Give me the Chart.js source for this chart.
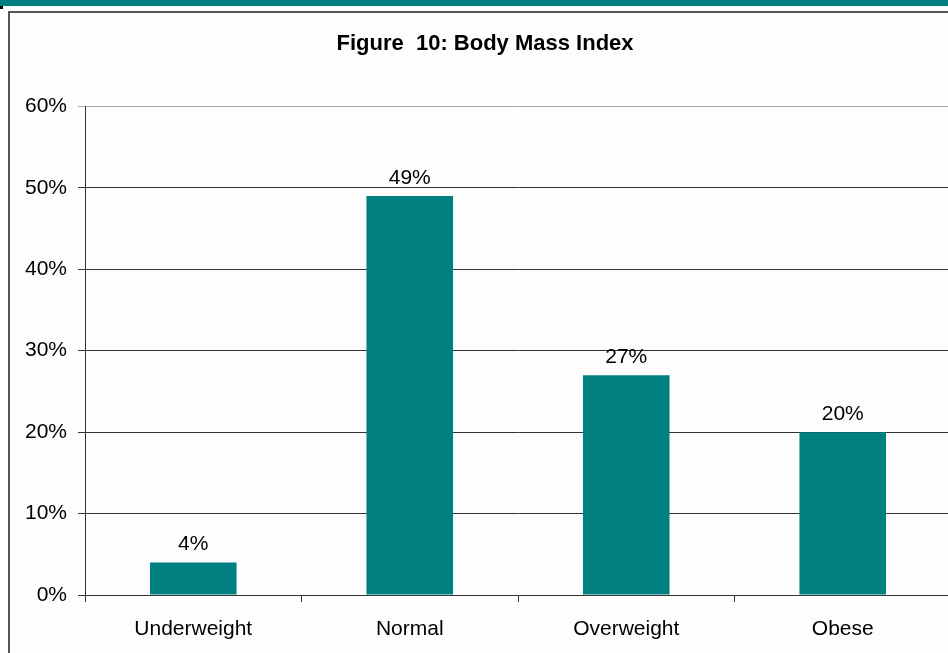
<!DOCTYPE html>
<html>
<head>
<meta charset="utf-8">
<script src="https://cdn.jsdelivr.net/npm/chart.js@4"></script>
<style>
  html, body { margin: 0; padding: 0; background: #fff; overflow: hidden; width: 948px; height: 653px; }
  #band { position: absolute; left: 0; top: 0; width: 948px; height: 6px; background: #008080; }
  #mark { position: absolute; left: 0; top: 6px; width: 3px; height: 3px; background: #000; }
  #frame { position: absolute; left: 8px; top: 11px; width: 960px; height: 660px;
           border-left: 2px solid #555; border-top: 2px solid #555; background: #fdfdfd; }
  #chart { position: absolute; left: 0; top: 0; }
</style>
</head>
<body>
<div id="band"></div>
<div id="mark"></div>
<div id="frame"></div>
<canvas id="chart" width="970" height="653"></canvas>
<script>
const categories = ['Underweight', 'Normal', 'Overweight', 'Obese'];
const shares = [4, 49, 27, 20];
const yTicks = [0, 10, 20, 30, 40, 50, 60];

const fontFamily = "Arial, 'Liberation Sans', sans-serif";

// labels above the bars
const valueLabels = {
  id: 'valueLabels',
  afterDatasetsDraw(chart) {
    const ctx = chart.ctx;
    const meta = chart.getDatasetMeta(0);
    ctx.save();
    ctx.font = '21px ' + fontFamily;
    ctx.fillStyle = '#000';
    ctx.textAlign = 'center';
    ctx.textBaseline = 'alphabetic';
    meta.data.forEach((bar, i) => {
      ctx.fillText(shares[i] + '%', bar.x, bar.y - 12);
    });
    ctx.restore();
  }
};

new Chart(document.getElementById('chart').getContext('2d'), {
  type: 'bar',
  data: {
    labels: categories,
    datasets: [{
      data: shares,
      backgroundColor: '#008080',
      borderWidth: 0,
      categoryPercentage: 1,
      barPercentage: 0.4
    }]
  },
  options: {
    responsive: false,
    animation: false,
    layout: { padding: { left: 19, right: 19, top: 0, bottom: 0 } },
    plugins: {
      legend: { display: false },
      tooltip: { enabled: false },
      title: {
        display: true,
        text: 'Figure  10: Body Mass Index',
        color: '#000',
        font: { family: fontFamily, size: 22, weight: 'bold' },
        padding: { top: 31, bottom: 49 }
      }
    },
    scales: {
      x: {
        offset: true,
        grid: { drawOnChartArea: false, drawTicks: true, tickLength: 7, offset: true, color: '#333' },
        border: { color: '#333', width: 1 },
        ticks: { color: '#000', font: { family: fontFamily, size: 21 }, padding: 15, maxRotation: 0 },
        afterFit(scale) { scale.height = 58; }
      },
      y: {
        min: 0,
        max: 60,
        afterBuildTicks(scale) { scale.ticks = yTicks.map(v => ({ value: v })); },
        grid: {
          color: ctx => ctx.tick && ctx.tick.value === 60 ? '#aaa' : '#333',
          tickLength: 7
        },
        border: { color: '#333', width: 1 },
        ticks: {
          color: '#000',
          font: { family: fontFamily, size: 21 },
          padding: 11,
          callback: v => v + '%'
        },
        afterFit(scale) { scale.width = 66; }
      }
    }
  },
  plugins: [valueLabels]
});
</script>
</body>
</html>
